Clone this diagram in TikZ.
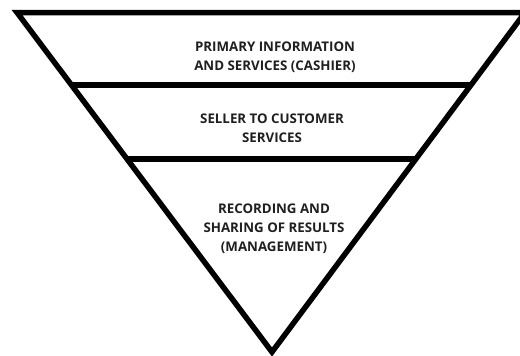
\documentclass[tikz,border=0pt]{standalone}
\usepackage{fontspec}
\setmainfont{Open Sans}
\usetikzlibrary{calc}
\begin{document}
\begin{tikzpicture}[x=1pt,y=-1pt,
  edge/.style={line width=5.5pt, line join=miter},
  divider/.style={line width=6.5pt},
  label/.style={font=\bfseries\fontsize{13.3}{19}\selectfont, align=center,
    text=black!88, inner sep=0pt}]
\useasboundingbox (0,0) rectangle (520,356);
% outer inverted triangle
\coordinate (tl) at (17,12.5);
\coordinate (tr) at (525,12.5);
\coordinate (ap) at (272,352);
\draw[edge] (tl) -- (tr) -- (ap) -- cycle;
% horizontal dividers between the levels
\coordinate (l1) at ($(tl)!0.2135!(ap)$);
\coordinate (r1) at ($(tr)!0.2135!(ap)$);
\coordinate (l2) at ($(tl)!0.4315!(ap)$);
\coordinate (r2) at ($(tr)!0.4315!(ap)$);
\draw[divider] (l1) -- (r1);
\draw[divider] (l2) -- (r2);
% level labels
\node[label] (lv1) at (275,57) {PRIMARY INFORMATION\\AND SERVICES (CASHIER)};
\node[label] (lv2) at (272,128) {SELLER TO CUSTOMER\\SERVICES};
\node[label] (lv3) at (274,229) {RECORDING AND\\SHARING OF RESULTS\\(MANAGEMENT)};
\end{tikzpicture}
\end{document}
